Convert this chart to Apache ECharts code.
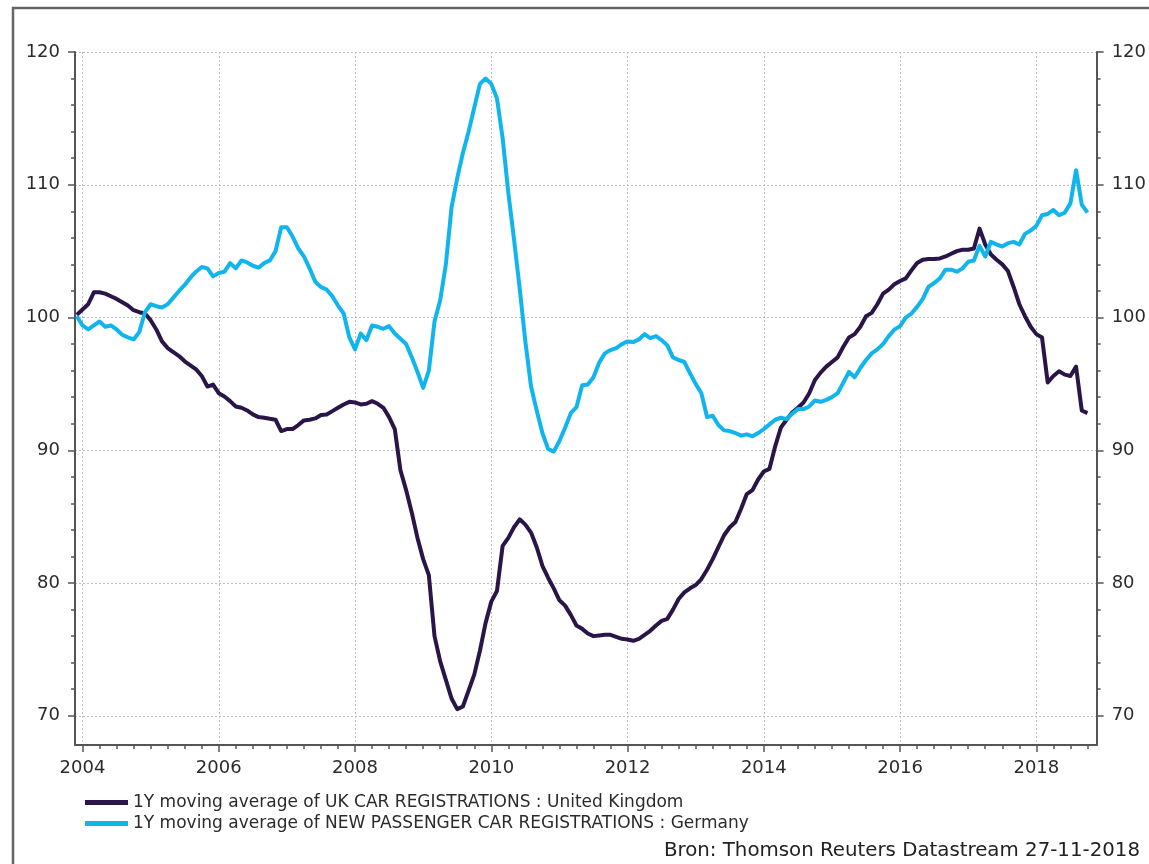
<!DOCTYPE html>
<html>
<head>
<meta charset="utf-8">
<title>UK vs Germany car registrations</title>
<script src="https://cdn.jsdelivr.net/npm/echarts@6/dist/echarts.min.js"></script>
<style>
  html, body { margin: 0; padding: 0; background: #fff; }
  #chart { width: 1149px; height: 864px; }
</style>
</head>
<body>
<div id="chart"></div>
<script>
// monthly data, Dec 2003 .. Oct 2018
var firstYear = 2003, firstMonth = 12;

var ukValues = [
  100.2, 100.6, 101.0, 101.9, 101.9, 101.8, 101.6, 101.4, 101.15, 100.9, 100.55, 100.4,
  100.3, 99.8, 99.1, 98.2, 97.7, 97.4, 97.1, 96.7, 96.4, 96.1, 95.6, 94.8,
  94.95, 94.3, 94.05, 93.7, 93.3, 93.2, 93.0, 92.7, 92.5, 92.45, 92.37, 92.3,
  91.45, 91.6, 91.6, 91.9, 92.25, 92.3, 92.4, 92.65, 92.7, 92.95, 93.2, 93.45,
  93.65, 93.6, 93.45, 93.5, 93.7, 93.5, 93.2, 92.5, 91.6, 88.5, 87.0, 85.3,
  83.4, 81.8, 80.6, 76.0, 74.1, 72.7, 71.3, 70.5, 70.7, 71.9, 73.1, 74.9,
  77.0, 78.6, 79.4, 82.8, 83.4, 84.2, 84.8, 84.4, 83.8, 82.7, 81.3, 80.4,
  79.6, 78.7, 78.3, 77.6, 76.8, 76.55, 76.2, 76.0, 76.05, 76.1, 76.1, 75.95,
  75.8, 75.75, 75.65, 75.8, 76.1, 76.4, 76.8, 77.15, 77.3, 78.0, 78.8, 79.3,
  79.6, 79.85, 80.3, 81.0, 81.8, 82.7, 83.6, 84.2, 84.6, 85.6, 86.7, 87.0,
  87.8, 88.4, 88.6, 90.3, 91.7, 92.3, 92.85, 93.2, 93.6, 94.3, 95.3, 95.85,
  96.3, 96.65, 97.0, 97.8, 98.5, 98.75, 99.3, 100.1, 100.35, 101.0, 101.8, 102.1,
  102.5, 102.75, 102.95, 103.55, 104.1, 104.35, 104.4, 104.4, 104.45, 104.6, 104.8, 105.0,
  105.1, 105.1, 105.2, 106.7, 105.5, 104.75, 104.35, 104.0, 103.5, 102.3, 101.0, 100.1,
  99.3, 98.75, 98.5, 95.1, 95.6, 95.95, 95.7, 95.6, 96.3, 93.0, 92.8
];

var deValues = [
  100.1, 99.4, 99.1, 99.4, 99.7, 99.3, 99.4, 99.1, 98.7, 98.5, 98.35, 98.9,
  100.4, 101.0, 100.85, 100.75, 101.0, 101.5, 102.0, 102.45, 103.0, 103.45, 103.8, 103.7,
  103.1, 103.35, 103.45, 104.1, 103.7, 104.3, 104.15, 103.9, 103.75, 104.1, 104.3, 105.0,
  106.8, 106.8, 106.1, 105.2, 104.6, 103.7, 102.7, 102.3, 102.1, 101.6, 100.9, 100.3,
  98.5, 97.6, 98.8, 98.3, 99.4, 99.3, 99.15, 99.35, 98.8, 98.4, 98.0, 97.0,
  95.9, 94.7, 96.0, 99.7, 101.3, 104.0, 108.3, 110.5, 112.4, 114.0, 115.8, 117.6,
  118.0, 117.6, 116.5, 113.5, 109.4, 105.9, 102.2, 98.2, 94.8, 93.0, 91.3, 90.1,
  89.9, 90.7, 91.7, 92.8, 93.25, 94.9, 94.95, 95.5, 96.6, 97.3, 97.55, 97.7,
  98.0, 98.2, 98.15, 98.35, 98.75, 98.45, 98.6, 98.3, 97.9, 97.0, 96.8, 96.65,
  95.8, 95.0, 94.3, 92.5, 92.6, 91.9, 91.5, 91.45, 91.3, 91.1, 91.2, 91.05,
  91.3, 91.6, 91.95, 92.3, 92.45, 92.35, 92.75, 93.1, 93.1, 93.3, 93.75, 93.65,
  93.8, 94.0, 94.3, 95.1, 95.9, 95.5, 96.2, 96.8, 97.3, 97.6, 98.0, 98.6,
  99.1, 99.35, 100.0, 100.3, 100.8, 101.4, 102.3, 102.6, 102.95, 103.6, 103.6, 103.45,
  103.7, 104.2, 104.3, 105.4, 104.6, 105.7, 105.5, 105.35, 105.6, 105.7, 105.5, 106.3,
  106.55, 106.9, 107.7, 107.8, 108.1, 107.7, 107.9, 108.6, 111.1, 108.5, 107.9
];

var seriesNames = [
  '1Y moving average of UK CAR REGISTRATIONS : United Kingdom',
  '1Y moving average of NEW PASSENGER CAR REGISTRATIONS : Germany'
];
var seriesColors = ['#2a1548', '#11b5ee'];

var yLabels = [70, 80, 90, 100, 110, 120];
var yMinor = [70, 72, 74, 76, 78, 80, 82, 84, 86, 88, 90, 92, 94, 96, 98, 100,
              102, 104, 106, 108, 110, 112, 114, 116, 118, 120];
var xLabels = [2004, 2006, 2008, 2010, 2012, 2014, 2016, 2018];

var sourceText = 'Bron: Thomson Reuters Datastream 27-11-2018';

// decimal-year x position of each monthly point
function monthPos(i) {
  return firstYear + (firstMonth - 1 + i) / 12;
}
function pairs(values) {
  return values.map(function (v, i) { return [monthPos(i), v]; });
}
var quarterTicks = [];
for (var q = 2004; q <= 2018.76; q += 0.25) quarterTicks.push(q);

var xMin = 2003.89, xMax = 2018.885;
var yMin = 67.8, yMax = 120;

var axisColor = '#555';
var labelStyle = { color: '#2b2b2b', fontFamily: 'DejaVu Sans', fontSize: 18 };
var gridLine = { show: true, lineStyle: { color: '#bdbdbd', type: [2, 2], width: 1 } };

function yAxisMajor(pos, withGrid) {
  return {
    type: 'value', position: pos, min: yMin, max: yMax,
    axisLine: { show: true, lineStyle: { color: axisColor, width: 2 } },
    axisTick: { show: true, inside: false, length: 7, customValues: yLabels,
                lineStyle: { color: axisColor, width: 1.5 } },
    axisLabel: Object.assign({ show: true, margin: 15, customValues: yLabels }, labelStyle),
    splitLine: withGrid ? gridLine : { show: false }
  };
}
function yAxisMinor(pos) {
  return {
    type: 'value', position: pos, min: yMin, max: yMax,
    axisLine: { show: false },
    axisTick: { show: true, length: 4, customValues: yMinor,
                lineStyle: { color: axisColor, width: 1.5 } },
    axisLabel: { show: false },
    splitLine: { show: false }
  };
}

var chart = echarts.init(document.getElementById('chart'));
chart.setOption({
  animation: false,
  backgroundColor: '#fff',
  graphic: [{
    type: 'rect', silent: true,
    shape: { x: 13, y: 8, width: 1200, height: 900 },
    style: { fill: 'none', stroke: '#666', lineWidth: 2.5 }
  }],
  title: {
    text: sourceText,
    right: 9, top: 841,
    padding: 0,
    textStyle: { color: '#222', fontFamily: 'DejaVu Sans', fontSize: 19.8, fontWeight: 'normal' }
  },
  legend: {
    orient: 'vertical',
    left: 80, top: 789,
    itemWidth: 43, itemHeight: 5, itemGap: 4,
    icon: 'rect',
    data: seriesNames,
    textStyle: { color: '#2b2b2b', fontFamily: 'DejaVu Sans', fontSize: 17 }
  },
  grid: { left: 75, right: 50, top: 52, bottom: 119, containLabel: false },
  xAxis: [{
    type: 'value', position: 'bottom', min: xMin, max: xMax,
    axisLine: { show: true, onZero: false, lineStyle: { color: axisColor, width: 2 } },
    axisTick: { show: true, length: 4, customValues: quarterTicks,
                lineStyle: { color: axisColor, width: 1.5 } },
    axisLabel: { show: false },
    splitLine: { show: false }
  }, {
    type: 'value', position: 'bottom', min: xMin, max: xMax,
    axisLine: { show: false, onZero: false },
    axisTick: { show: true, length: 7, customValues: xLabels,
                lineStyle: { color: axisColor, width: 1.5 } },
    axisLabel: Object.assign({ show: true, margin: 14, customValues: xLabels,
                               formatter: function (v) { return String(Math.round(v)); } }, labelStyle),
    splitLine: gridLine
  }],
  yAxis: [yAxisMajor('left', true), yAxisMinor('left'), yAxisMajor('right', false), yAxisMinor('right')],
  series: [{
    name: seriesNames[0], type: 'line', xAxisIndex: 0, yAxisIndex: 0,
    data: pairs(ukValues), showSymbol: false, symbol: 'none',
    color: seriesColors[0],
    lineStyle: { color: seriesColors[0], width: 4, join: 'round' }
  }, {
    name: seriesNames[1], type: 'line', xAxisIndex: 0, yAxisIndex: 0,
    data: pairs(deValues), showSymbol: false, symbol: 'none',
    color: seriesColors[1],
    lineStyle: { color: seriesColors[1], width: 4, join: 'round' }
  }]
});
</script>
</body>
</html>
